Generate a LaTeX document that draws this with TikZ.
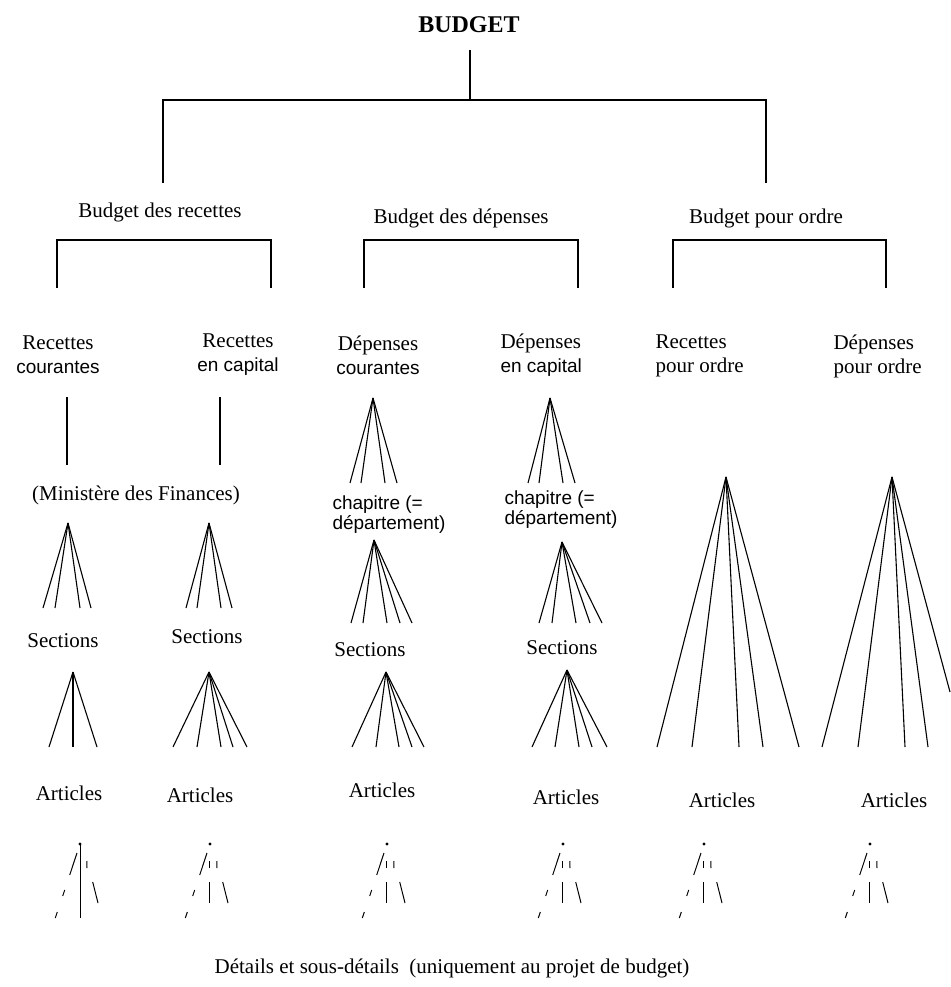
\documentclass[tikz,border=0pt]{standalone}
\usepackage{fontspec}
\setmainfont{Liberation Serif}
\newfontfamily\sansfam{Liberation Sans}
\usetikzlibrary{positioning}

\newcommand{\sanssmall}{\sansfam\fontsize{19}{24}\selectfont}

\begin{document}
\begin{tikzpicture}[x=1pt, y=-1pt, line width=1.1pt,
  lbl/.style={font=\fontsize{21}{24}\selectfont, inner sep=0pt, align=center},
  lbll/.style={lbl, align=left, anchor=west},
  chap/.style={font=\sansfam\fontsize{19}{20}\selectfont, inner sep=0pt, align=left, anchor=west}]
\useasboundingbox (0,0) rectangle (950,987);

% top level
\node[font=\bfseries\fontsize{24}{28}\selectfont, inner sep=0pt] (budget) at (469,25) {BUDGET};
\coordinate (stem) at (470,50);
\coordinate (topl) at (163,183);
\coordinate (topr) at (766,183);
\draw (stem) -- ++(0,50);
\draw (topl) -- ++(0,-83) -| (topr);

% the three budgets
\node[lbl] (brec) at (160,212) {Budget des recettes};
\node[lbl] (bdep) at (461,218) {Budget des dépenses};
\node[lbl] (bord) at (766,218) {Budget pour ordre};
\coordinate (recl) at (57,288);  \coordinate (recr) at (271,288);
\coordinate (depl) at (364,288); \coordinate (depr) at (578,288);
\coordinate (ordl) at (673,288); \coordinate (ordr) at (886,288);
\draw (recl) -- ++(0,-48) -| (recr);
\draw (depl) -- ++(0,-48) -| (depr);
\draw (ordl) -- ++(0,-48) -| (ordr);

% second level
\node[lbl] (reccour) at (58,355) {Recettes\\{\sanssmall courantes}};
\node[lbl] (reccap) at (238,355) {Recettes\\{\sanssmall en capital}};
\node[lbl] (depcour) at (378,355) {Dépenses\\{\sanssmall courantes}};
\node[lbll] (depcap) at (500,355) {Dépenses\\{\sanssmall en capital}};
\node[lbll] (record) at (655,356) {Recettes\\pour ordre};
\node[lbll] (depord) at (833,356) {Dépenses\\pour ordre};

% recettes
\coordinate (courtop) at (67,397);
\coordinate (captop) at (220,397);
\draw (courtop) -- ++(0,68);
\draw (captop) -- ++(0,68);
\node[lbl] (minfin) at (136,495) {(Ministère des Finances)};
\coordinate (fanrc) at (68,523);
\foreach \bx in {43,55,80,91}{
  \draw (fanrc) -- (\bx,608);
}
\coordinate (fanrk) at (209,523);
\foreach \bx in {186,197,221,232}{
  \draw (fanrk) -- (\bx,608);
}
\node[lbl] (sec1) at (63,641) {Sections};
\node[lbl] (sec2) at (207,637) {Sections};
\coordinate (fansc) at (73,672);
\foreach \bx in {49,73,97}{
  \draw (fansc) -- (\bx,747);
}
\coordinate (fansk) at (209,672);
\foreach \bx in {173,197,221,233,247}{
  \draw (fansk) -- (\bx,747);
}

% dépenses
\coordinate (fandc) at (373,398);
\foreach \bx in {350,361,385,397}{
  \draw (fandc) -- (\bx,483);
}
\coordinate (fandk) at (550,398);
\foreach \bx in {528,539,563,575}{
  \draw (fandk) -- (\bx,483);
}
\node[chap] (chapcour) at (332,515) {chapitre (=\\département)};
\node[chap] (chapcap) at (504,510) {chapitre (=\\département)};
\coordinate (fanchc) at (374,540);
\foreach \bx in {351,363,387,400,412}{
  \draw (fanchc) -- (\bx,623);
}
\coordinate (fanchk) at (562,542);
\foreach \bx in {539,552,576,590,602}{
  \draw (fanchk) -- (\bx,623);
}
\node[lbl] (sec3) at (370,650) {Sections};
\node[lbl] (sec4) at (562,648) {Sections};
\coordinate (fansdc) at (386,672);
\foreach \bx in {352,376,399,412,424}{
  \draw (fansdc) -- (\bx,747);
}
\coordinate (fansdk) at (567,670);
\foreach \bx in {532,555,579,592,607}{
  \draw (fansdk) -- (\bx,747);
}

% pour ordre
\coordinate (fanro) at (726,477);
\foreach \bx in {657,692,739,763,799}{
  \draw (fanro) -- (\bx,747);
}
\coordinate (fando) at (892,477);
\foreach \bx in {822,858,905,928}{
  \draw (fando) -- (\bx,747);
}
\draw (fando) -- (950,692);

% articles
\node[lbl] (art1) at (69,793) {Articles};
\node[lbl] (art2) at (200,795) {Articles};
\node[lbl] (art3) at (382,790) {Articles};
\node[lbl] (art4) at (566,797) {Articles};
\node[lbl] (art5) at (722,800) {Articles};
\node[lbl] (art6) at (894,800) {Articles};

% details
\begin{scope}[shift={(80,844)}, line width=1pt]
  \fill (0,0) circle (1.6pt);
  \draw (0,0) -- (0,74);
  \draw (-3,9) -- (-10.3,31) (-15.3,46) -- (-17.3,52) (-22.7,68) -- (-24.7,74);
  \draw (6.8,17) -- (7,24) (12.7,38) -- (18,59);
\end{scope}
\foreach \px in {210,387,563,704,870}{
  \begin{scope}[shift={(\px,844)}, line width=1pt]
    \fill (0,0) circle (1.6pt);
    \draw (-3,9) -- (-10.3,31) (-15.3,46) -- (-17.3,52) (-22.7,68) -- (-24.7,74);
    \draw (-1,17) -- (-1,24) (-1,38) -- (-1,59);
    \draw (6.8,17) -- (7,24) (12.7,38) -- (18,59);
  \end{scope}
}
\node[lbl] (details) at (452,968) {Détails et sous-détails\ \ (uniquement au projet de budget)};
\end{tikzpicture}
\end{document}
